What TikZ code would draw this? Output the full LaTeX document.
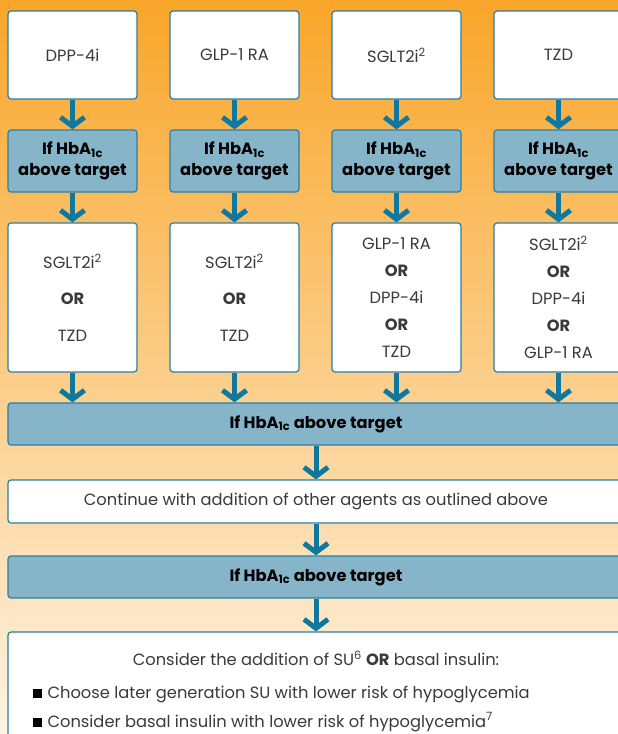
\documentclass[tikz,border=0pt]{standalone}
\usepackage{fontspec}
\setmainfont{Poppins}
\usetikzlibrary{arrows.meta}

\definecolor{bgtop}{HTML}{F9A62A}
\definecolor{bgmid}{HTML}{FDCE8E}
\definecolor{bgbot}{HTML}{FEF3E3}
\definecolor{lineblue}{HTML}{2B7FA3}
\definecolor{boxblue}{HTML}{86B5C9}
\definecolor{arrowblue}{HTML}{10789F}
\definecolor{txtgrey}{HTML}{3A3A3A}

\newcommand{\hba}{HbA\textsubscript{1c}}

\begin{document}
\begin{tikzpicture}[x=1pt,y=-1pt,
  drugbox/.style={draw=lineblue, line width=1.2pt, fill=white, rounded corners=3pt,
    minimum width=129pt, align=center, text=txtgrey, font=\fontsize{16.3pt}{27pt}\selectfont},
  targetbox/.style={drugbox, fill=boxblue, text=black, font=\bfseries\fontsize{16.3pt}{21pt}\selectfont},
  flowarrow/.style={arrowblue, line width=5pt, -{Straight Barb[length=9pt,width=24pt]}}]
  \useasboundingbox (0,0) rectangle (618,734);
  \clip (0,0) rectangle (618,734);
  \shade[top color=bgtop, middle color=bgmid, bottom color=bgbot] (0,0) rectangle (618,734);

  % first agent
  \node[drugbox, minimum height=88pt] (d1) at (72.5,55) {DPP-4i};
  \node[drugbox, minimum height=88pt] (d2) at (234.5,55) {GLP-1 RA};
  \node[drugbox, minimum height=88pt] (d3) at (396.5,55) {SGLT2i\textsuperscript{2}};
  \node[drugbox, minimum height=88pt] (d4) at (558.5,55) {TZD};

  % check
  \foreach \i/\x in {1/72.5,2/234.5,3/396.5,4/558.5}
    \node[targetbox, minimum height=62pt] (t\i) at (\x,161) {If \hba\\above target};

  % second agent
  \node[drugbox, minimum height=149pt] (m1) at (72.5,297.5) {SGLT2i\textsuperscript{2}\\[9.5pt]\textbf{OR}\\[9.5pt]TZD};
  \node[drugbox, minimum height=149pt] (m2) at (234.5,297.5) {SGLT2i\textsuperscript{2}\\[9.5pt]\textbf{OR}\\[9.5pt]TZD};
  \node[drugbox, minimum height=149pt] (m3) at (396.5,297.5) {GLP-1 RA\\\textbf{OR}\\DPP-4i\\\textbf{OR}\\TZD};
  \node[drugbox, minimum height=149pt] (m4) at (558.5,297.5) {SGLT2i\textsuperscript{2}\\\textbf{OR}\\DPP-4i\\\textbf{OR}\\GLP-1 RA};

  % third step
  \node[targetbox, minimum width=616pt, minimum height=42pt] (wide) at (316,424) {If \hba{} above target};
  \node[drugbox, minimum width=616pt, minimum height=43pt] (cont) at (316,501.5) {Continue with addition of other agents as outlined above};
  \node[targetbox, minimum width=616pt, minimum height=42pt] (check) at (316,577) {If \hba{} above target};
  \node[drugbox, minimum width=616pt, minimum height=150pt] (last) at (316,707) {};
  \node[text=txtgrey, font=\fontsize{16.3pt}{18pt}\selectfont] (su) at (316,658) {Consider the addition of SU\textsuperscript{6} \textbf{OR} basal insulin:};
  \node[text=txtgrey, font=\fontsize{16.3pt}{18pt}\selectfont, anchor=west] (b1) at (29,694)
    {\textcolor{black}{\rule{9pt}{9pt}}\hspace{6pt}Choose later generation SU with lower risk of hypoglycemia};
  \node[text=txtgrey, font=\fontsize{16.3pt}{18pt}\selectfont, anchor=west] (b2) at (29,722)
    {\textcolor{black}{\rule{9pt}{9pt}}\hspace{6pt}Consider basal insulin with lower risk of hypoglycemia\textsuperscript{7}};

  % arrows
  \foreach \i in {1,...,4} {
    \draw[flowarrow] (d\i) -- (t\i);
    \draw[flowarrow] (t\i) -- (m\i);
    \draw[flowarrow] (m\i.south) -- (m\i.south |- wide.north);
  }
  \draw[flowarrow] (wide) -- (cont);
  \draw[flowarrow] (cont) -- (check);
  \draw[flowarrow] (check.south) -- (last.north);
\end{tikzpicture}
\end{document}
